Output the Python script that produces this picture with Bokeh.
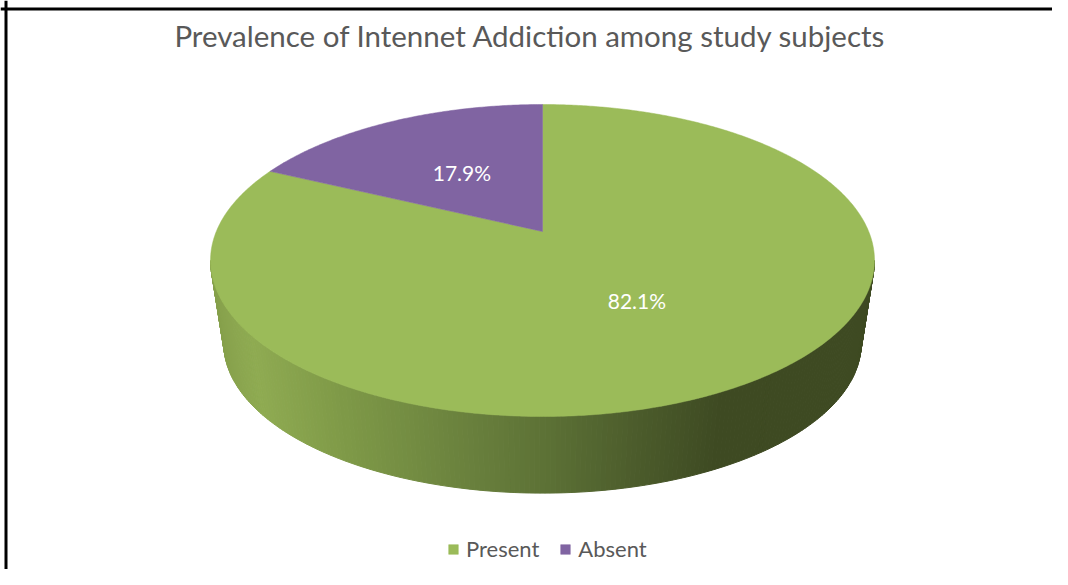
import numpy as np
from bokeh.plotting import figure
from bokeh.models import Range1d, Span, Legend, LegendItem
from bokeh.core.properties import value
from bokeh.embed import file_html
from bokeh.resources import INLINE

# ---- data ----
title_text = "Prevalence of Intennet Addiction among study subjects"
categories = ["Present", "Absent"]
percentages = [82.1, 17.9]
slice_colors = ["#9BBB59", "#8064A2"]

# ---- layout (pixel coordinates of the chart area) ----
W, H = 1052, 569
CX, CY = 542.0, 231.0      # projected pie centre (top face)
A, B = 326.2, 150.6        # projection scales
K = 0.186                  # perspective factor
S, CYB = 0.96, 315.0       # bottom face scale / centre

FONT = "Lato"
TEXT_GREY = "#595959"


def proj(phi_deg, r=1.0, bottom=False):
    phi = np.radians(phi_deg)
    u = r * np.sin(phi)
    v = r * np.cos(phi)
    d = 1 + K * v
    if bottom:
        return CX + S * A * u / d, CYB - S * B * v / d
    return CX + A * u / d, CY - B * v / d


p = figure(width=W, height=H, output_backend="svg", toolbar_location=None,
           x_range=Range1d(0, W), y_range=Range1d(H, 0),
           x_axis_location=None, y_axis_location=None, min_border=0)
p.grid.visible = False
p.outline_line_color = None
p.background_fill_color = "white"
p.border_fill_color = "white"

# border lines (top and left)
p.add_layout(Span(location=8.5, dimension="width", line_color="black", line_width=3))
p.add_layout(Span(location=5.5, dimension="height", line_color="black", line_width=3))

# ---- slice angles (clockwise from 12 o'clock) ----
total = sum(percentages)
ends = np.cumsum([v / total * 360.0 for v in percentages])
starts = np.concatenate([[0.0], ends[:-1]])

# ---- side wall (visible front half) with horizontal shading ----
phiR = np.degrees(np.arccos(-K))
phiL = 360.0 - phiR
stop_x = [210, 250, 330, 420, 542, 640, 720, 874]
stop_c = ["#86a04b", "#8fab52", "#809b48", "#718a41", "#5d7236", "#4b5b2b", "#3e4a22", "#3e4a22"]
stop_rgb = np.array([[int(c[i:i + 2], 16) for i in (1, 3, 5)] for c in stop_c], dtype=float)

side_xs, side_ys, side_cols = [], [], []
for s, e in zip(starts, ends):
    a0, a1 = max(s, phiR), min(e, phiL)
    if a1 <= a0:
        continue
    n = max(2, int((a1 - a0) / 0.75))
    ph = np.linspace(a0, a1, n + 1)
    for i in range(n):
        tx0, ty0 = proj(ph[i])
        tx1, ty1 = proj(ph[i + 1])
        bx1, by1 = proj(ph[i + 1], bottom=True)
        bx0, by0 = proj(ph[i], bottom=True)
        side_xs.append([tx0, tx1, bx1, bx0])
        side_ys.append([ty0, ty1, by1, by0])
        mx = (tx0 + tx1) / 2
        rgb = [np.interp(mx, stop_x, stop_rgb[:, k]) for k in range(3)]
        side_cols.append("#%02x%02x%02x" % tuple(int(round(c)) for c in rgb))

p.patches(side_xs, side_ys, fill_color=side_cols, line_color=side_cols, line_width=1)

# ---- top faces ----
items = []
for i, (s, e) in enumerate(zip(starts, ends)):
    ph = np.linspace(s, e, max(3, int((e - s) * 2)))
    ax, ay = proj(ph)
    xs = np.concatenate([[CX], ax])
    ys = np.concatenate([[CY], ay])
    r = p.patch(xs, ys, fill_color=slice_colors[i], line_color=slice_colors[i], line_width=0.5)
    items.append(LegendItem(label=categories[i], renderers=[r]))

# ---- data labels ----
mids = (starts + ends) / 2
lx, ly = proj(mids, r=0.5)
p.text(x=list(lx), y=list(ly), text=["%.1f%%" % v for v in percentages],
       text_color="white", text_font=value(FONT), text_font_size="21px",
       text_align="center", text_baseline="middle")

# ---- title ----
p.text(x=[530], y=[35], text=[title_text], text_color=TEXT_GREY,
       text_font=value(FONT), text_font_size="29.5px",
       text_align="center", text_baseline="middle")

# ---- legend ----
legend = Legend(items=items, orientation="horizontal", location=(447, 7),
                padding=0, margin=0, spacing=20, label_standoff=7,
                glyph_width=12, glyph_height=12, label_height=24,
                label_text_font=FONT, label_text_font_size="22px",
                label_text_color=TEXT_GREY, border_line_color=None,
                background_fill_alpha=0)
p.add_layout(legend, "center")

open("out.html", "w").write(file_html(p, INLINE))
